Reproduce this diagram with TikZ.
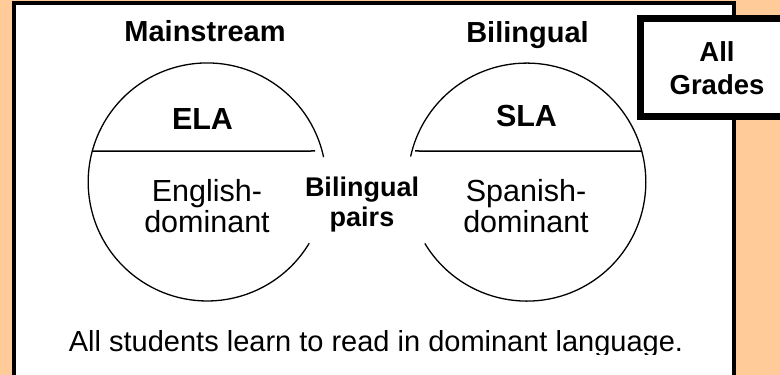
\documentclass[tikz,border=0pt]{standalone}
\usepackage{fontspec}
\setmainfont{Liberation Sans}
\definecolor{slidebg}{RGB}{255,204,153}
\tikzset{
  heading/.style={font=\fontsize{29}{33}\selectfont\bfseries, inner sep=0pt, anchor=base},
  smallhead/.style={font=\fontsize{27}{30}\selectfont\bfseries, inner sep=0pt, anchor=base, align=center},
  body/.style={font=\fontsize{30.5}{31}\selectfont, inner sep=0pt, anchor=base, align=center},
  ring/.style={circle, minimum size=238pt, inner sep=0pt},
  rim/.style={line width=1.3pt},
}
\begin{document}
\begin{tikzpicture}[x=1pt,y=1pt]
	\useasboundingbox (0,0) rectangle (780,375);
	\clip (0,0) rectangle (780,375);
	\fill [slidebg] (0,0) rectangle (780,375);
	% slide panel
	\draw [line width=4pt, fill=white] (14,371.5) rectangle (734,-10);
	\draw [line width=7pt, fill=white] (640.5,356) rectangle (795,258.5);
	\node [smallhead, font=\fontsize{27.5}{33}\selectfont\bfseries] (grades) at (717,280) {All\\Grades};
	% the two classes
	\node [ring] (eng) at (207,193) {};
	\node [ring] (spa) at (527,193) {};
	\draw [rim] (eng.12) arc [start angle=12, end angle=329, radius=119];
	\draw [rim] (spa.-149) arc [start angle=-149, end angle=167.6, radius=119];
	\draw [line width=1.5pt] (eng.165) -- (315,224);
	\draw [line width=1.5pt] (415,224) -- (spa.15);
	\node [heading] (main) at (205,333) {Mainstream};
	\node [heading] (bil) at (527.5,332) {Bilingual};
	\node [heading, font=\fontsize{30.5}{33}\selectfont\bfseries] (ela) at (202.5,245) {ELA};
	\node [heading, font=\fontsize{30.5}{33}\selectfont\bfseries] (sla) at (526.5,248) {SLA};
	\node [body] (engdom) at (207,142) {English-\\dominant};
	\node [body] (spadom) at (526,142) {Spanish-\\dominant};
	\node [smallhead] (pairs) at (362,148) {Bilingual\\pairs};
	% bottom line, cut off just below its baseline
	\begin{scope}
		\clip (0,20) rectangle (780,375);
		\node [body, font=\fontsize{29}{31}\selectfont] (note) at (376,23) {All students learn to read in dominant language.};
	\end{scope}
\end{tikzpicture}
\end{document}
